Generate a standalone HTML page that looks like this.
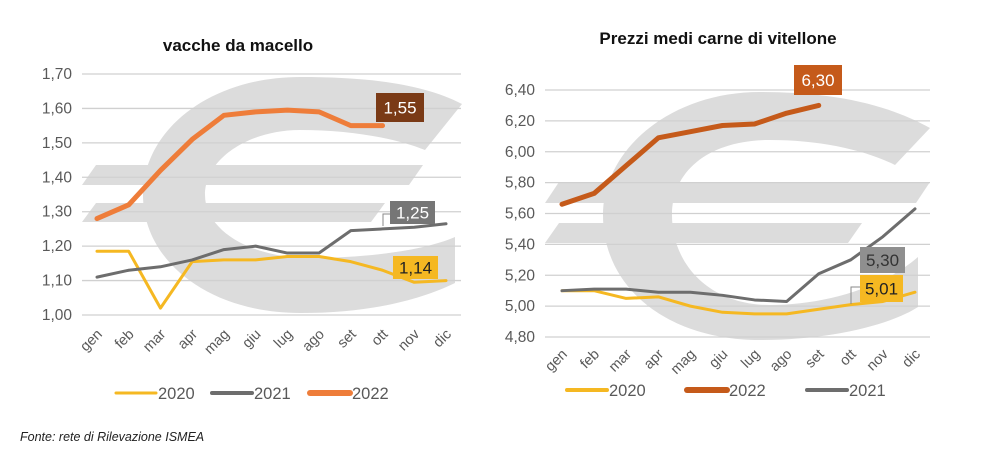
<!DOCTYPE html>
<html><head><meta charset="utf-8">
<style>
html,body{margin:0;padding:0;background:#fff;width:1007px;height:454px;overflow:hidden;font-family:"Liberation Sans",Arial,sans-serif}
svg{position:absolute;left:0;top:0}
</style></head>
<body>
<svg id="c" width="1007" height="454" viewBox="0 0 1007 454">
<text x="238" y="51" text-anchor="middle" font-size="17" font-weight="bold" fill="#111">vacche da macello</text>
<text x="718" y="44" text-anchor="middle" font-size="17" font-weight="bold" fill="#111">Prezzi medi carne di vitellone</text>
<text x="20" y="441" font-size="12.5" font-style="italic" fill="#222">Fonte: rete di Rilevazione ISMEA</text>
</svg>
<script>
const months=["gen","feb","mar","apr","mag","giu","lug","ago","set","ott","nov","dic"];
const leftTicks=[1.00,1.10,1.20,1.30,1.40,1.50,1.60,1.70];
const left2020=[1.185,1.185,1.02,1.155,1.16,1.16,1.17,1.17,1.155,1.13,1.095,1.10];
const left2021=[1.11,1.13,1.14,1.16,1.19,1.20,1.18,1.18,1.245,1.25,1.255,1.265];
const left2022=[1.28,1.32,1.42,1.51,1.58,1.59,1.595,1.59,1.55,1.55];
const rightTicks=[4.80,5.00,5.20,5.40,5.60,5.80,6.00,6.20,6.40];
const right2020=[5.10,5.10,5.05,5.06,5.00,4.96,4.95,4.95,4.98,5.01,5.03,5.09];
const right2021=[5.10,5.11,5.11,5.09,5.09,5.07,5.04,5.03,5.21,5.30,5.45,5.63];
const right2022=[5.66,5.73,5.91,6.09,6.13,6.17,6.18,6.25,6.30];
const leftLabels=["1,55","1,25","1,14"];
const rightLabels=["6,30","5,30","5,01"];

const svg=document.getElementById('c');
const NS="http://www.w3.org/2000/svg";
function mk(tag,attrs,parent){const e=document.createElementNS(NS,tag);for(const k in attrs)e.setAttribute(k,attrs[k]);(parent||svg).appendChild(e);return e;}

function chart(cfg){
  const g=mk('g',{});
  
  
  const y=v=>cfg.y0+(v-cfg.vmin)/(cfg.vmax-cfg.vmin)*(cfg.y1-cfg.y0);
  const x=i=>cfg.x0+i*(cfg.x1-cfg.x0)/11;
  const e=cfg.euro;
  const eu=mk('path',{d:e.path,fill:'#dcdcdc'},g);
  
  
  e.bars.forEach(b=>{const r=mk('polygon',{points:`${b[0]},${b[1]+b[3]} ${b[0]+14},${b[1]} ${b[2]},${b[1]} ${b[2]-14},${b[1]+b[3]}`,fill:'#dcdcdc'},g);
    
    });
  cfg.ticks.forEach(t=>{
    const l=mk('line',{x1:cfg.gx0,x2:cfg.gx1,y1:y(t),y2:y(t),stroke:'#d0d0d0','stroke-width':1.3},g);
    
    
    const tx=mk('text',{x:cfg.gx0-10,y:y(t)+5,'text-anchor':'end','font-size':15.5,fill:'#595959'},g);
    tx.textContent=t.toFixed(2).replace('.',',');
    
    
  });
  months.forEach((m,i)=>{
    const tx=mk('text',{x:0,y:0,'text-anchor':'end','font-size':14.5,fill:'#595959',transform:`translate(${x(i)+6},${cfg.xl}) rotate(-45)`},g);
    tx.textContent=m;
    
    
  });
  cfg.series.forEach(s=>{
    const pl=mk('polyline',{points:s.d.map((v,i)=>x(i)+','+y(v)).join(' '),fill:'none',stroke:s.c,'stroke-width':s.w,'stroke-linejoin':'round','stroke-linecap':'round'},g);
    
    
  });
  cfg.leaders.forEach(p=>{
    const l=mk('polyline',{points:p,fill:'none',stroke:'#8a8a8a','stroke-width':1},g);
    
    
  });
  cfg.labels.forEach(L=>{
    const r=mk('rect',{x:L.x,y:L.y,width:L.w,height:L.h,fill:L.bg},g);
    
    
    const t=mk('text',{x:L.x+L.w/2,y:L.y+L.h/2+6,'text-anchor':'middle','font-size':17,fill:L.fg},g);
    t.textContent=L.t;
    
    
  });
  cfg.legend.forEach(L=>{
    const l=mk('line',{x1:L.x,x2:L.x+40,y1:cfg.ly,y2:cfg.ly,stroke:L.c,'stroke-width':L.w,'stroke-linecap':'round'},g);
    
    
    const t=mk('text',{x:L.x+42,y:cfg.ly+6,'font-size':16.5,fill:'#595959'},g);
    t.textContent=L.t;
    
    
  });
}

chart({name:'left-chart',vmin:1.0,vmax:1.7,y0:315,y1:74,x0:97,x1:446,gx0:82,gx1:461,xl:335,ticks:leftTicks,
  euro:{path:"M462,104 C420,82 360,77 300,77 C210,77 143,130 143,195 C143,262 210,313 300,313 C370,313 420,300 455,283 L455,237 C420,252 360,258 310,258 C250,258 205,230 205,195 C205,158 250,130 300,130 C350,130 395,138 425,150 Z",
    bars:[[82,165,423,20],[82,203,385,19]]},
  series:[{n:'2020',d:left2020,c:'#f5b822',w:3},{n:'2021',d:left2021,c:'#6d6d6d',w:3},{n:'2022',d:left2022,c:'#ee7d3a',w:5}],
  leaders:["383,226 383,214 390,214"],
  labels:[{x:376,y:93,w:48,h:29,bg:'#7a3a16',fg:'#fff',t:leftLabels[0]},{x:390,y:201,w:45,h:23,bg:'#767676',fg:'#fff',t:leftLabels[1]},{x:393,y:256,w:45,h:23,bg:'#f5b822',fg:'#222',t:leftLabels[2]}],
  ly:393,legend:[{x:116,c:'#f5b822',w:3,t:'2020'},{x:212,c:'#6d6d6d',w:4,t:'2021'},{x:310,c:'#ee7d3a',w:6,t:'2022'}]});

chart({name:'right-chart',vmin:4.8,vmax:6.4,y0:337,y1:90,x0:562,x1:915,gx0:545,gx1:930,xl:355,ticks:rightTicks,
  euro:{path:"M930,128 C880,100 820,92 760,92 C670,92 603,150 603,215 C603,290 670,340 760,340 C830,340 890,325 918,307 L918,257 C880,290 820,305 770,305 C710,305 672,265 672,215 C672,170 710,140 770,140 C820,140 865,150 895,165 Z",
    bars:[[545,182,930,21],[545,223,862,20]]},
  series:[{n:'2020',d:right2020,c:'#f5b822',w:3},{n:'2021',d:right2021,c:'#6d6d6d',w:3},{n:'2022',d:right2022,c:'#c55a1a',w:5}],
  leaders:["851,304 851,287 860,287"],
  labels:[{x:794,y:65,w:48,h:30,bg:'#c55a1a',fg:'#fff',t:rightLabels[0]},{x:860,y:247,w:45,h:26,bg:'#8f8f8f',fg:'#333',t:rightLabels[1]},{x:860,y:275,w:43,h:27,bg:'#f5b822',fg:'#222',t:rightLabels[2]}],
  ly:390,legend:[{x:567,c:'#f5b822',w:4,t:'2020'},{x:687,c:'#c55a1a',w:6,t:'2022'},{x:807,c:'#6d6d6d',w:4,t:'2021'}]});
</script>
</body></html>
